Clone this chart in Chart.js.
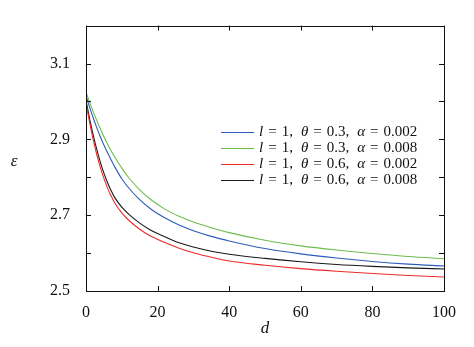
<!DOCTYPE html>
<html>
<head>
<meta charset="utf-8">
<script src="https://cdn.jsdelivr.net/npm/chart.js@4"></script>
<style>
  html, body { margin: 0; padding: 0; background: #fff; }
  #wrap { width: 474px; height: 347px; }
</style>
</head>
<body>
<div id="wrap"><canvas id="chart" width="474" height="347"></canvas></div>
<script>
// distance values along the x axis
const dValues = [0, 1, 2, 3, 4, 5, 6, 7, 8, 10, 12, 15, 18, 22, 26, 30, 35, 40, 50, 60, 70, 80, 90, 100];

// epsilon for each parameter set
const epsL1T03A002 = [3.015, 2.985, 2.957, 2.931, 2.907, 2.885, 2.865, 2.846, 2.828, 2.796, 2.771, 2.741, 2.717, 2.693, 2.674, 2.659, 2.644, 2.632, 2.612, 2.598, 2.587, 2.578, 2.571, 2.566];
const epsL1T03A008 = [3.025, 2.998, 2.973, 2.950, 2.928, 2.907, 2.888, 2.870, 2.854, 2.824, 2.798, 2.767, 2.742, 2.716, 2.697, 2.682, 2.667, 2.654, 2.634, 2.619, 2.608, 2.599, 2.591, 2.585];
const epsL1T06A002 = [2.995, 2.945, 2.900, 2.860, 2.826, 2.797, 2.772, 2.751, 2.733, 2.706, 2.686, 2.663, 2.645, 2.628, 2.613, 2.601, 2.589, 2.579, 2.568, 2.559, 2.552, 2.546, 2.541, 2.537];
const epsL1T06A008 = [3.003, 2.955, 2.912, 2.874, 2.840, 2.811, 2.786, 2.765, 2.747, 2.721, 2.702, 2.679, 2.661, 2.643, 2.627, 2.616, 2.605, 2.597, 2.586, 2.577, 2.570, 2.565, 2.561, 2.558];

const seriesLabels = [
  'l = 1, θ = 0.3, α = 0.002',
  'l = 1, θ = 0.3, α = 0.008',
  'l = 1, θ = 0.6, α = 0.002',
  'l = 1, θ = 0.6, α = 0.008'
];
const seriesColors = ['#2c5cb8', '#6cbd4c', '#ee2a2a', '#1a1a1a'];

const xTickLabels = ['0', '20', '40', '60', '80', '100'];
const yTickLabels = ['2.5', '2.7', '2.9', '3.1'];

const serif = '"Liberation Serif", "DejaVu Serif", serif';

function toPoints(ys) {
  return dValues.map((d, i) => ({ x: d, y: ys[i] }));
}

const allSeries = [epsL1T03A002, epsL1T03A008, epsL1T06A002, epsL1T06A008];

// frame, mirrored inward ticks, axis symbols and the legend box
const decorations = {
  id: 'decorations',
  afterDraw(chart) {
    const ctx = chart.ctx;
    const a = chart.chartArea;
    const xs = chart.scales.x, ys = chart.scales.y;
    ctx.save();
    ctx.strokeStyle = '#111';
    ctx.lineWidth = 1;
    ctx.strokeRect(Math.round(a.left) + 0.5, Math.round(a.top) + 0.5,
      Math.round(a.right - a.left), Math.round(a.bottom - a.top));

    ctx.beginPath();
    const tl = 5;
    ys.ticks.forEach(t => {
      const y = Math.round(ys.getPixelForValue(t.value)) + 0.5;
      ctx.moveTo(a.left, y); ctx.lineTo(a.left + tl, y);
      ctx.moveTo(a.right, y); ctx.lineTo(a.right - tl, y);
    });
    xs.ticks.forEach(t => {
      const x = Math.round(xs.getPixelForValue(t.value)) + 0.5;
      ctx.moveTo(x, a.bottom); ctx.lineTo(x, a.bottom - tl);
      ctx.moveTo(x, a.top); ctx.lineTo(x, a.top + tl);
    });
    ctx.stroke();

    // axis symbols
    ctx.fillStyle = '#111';
    ctx.textAlign = 'center';
    ctx.textBaseline = 'middle';
    ctx.font = 'italic 17px ' + serif;
    ctx.fillText('ε', 14, 162);
    ctx.fillText('d', (a.left + a.right) / 2, 329);

    // legend
    const rowY = [132, 148, 164, 180];
    chart.data.datasets.forEach((ds, i) => {
      const y = rowY[i] + 0.5;
      ctx.strokeStyle = ds.borderColor;
      ctx.lineWidth = 1.2;
      ctx.beginPath();
      ctx.moveTo(221, y); ctx.lineTo(254, y);
      ctx.stroke();
      drawMath(ctx, ds.label, 259, rowY[i]);
    });
    ctx.restore();
  }
};

// letters in italic, digits and signs upright, wider gaps around "="
function drawMath(ctx, text, x, y) {
  ctx.textAlign = 'left';
  ctx.textBaseline = 'middle';
  ctx.fillStyle = '#111';
  const size = '15px ';
  text.split(' ').forEach(p => {
    if (p === '=') {
      x += 5;
      ctx.font = size + serif;
      ctx.fillText('=', x, y);
      x += ctx.measureText('=').width + 5;
      return;
    }
    for (const ch of p) {
      const italic = /[a-zα-ω]/.test(ch);
      ctx.font = (italic ? 'italic ' : '') + size + serif;
      ctx.fillText(ch, x, y);
      x += ctx.measureText(ch).width;
    }
    if (p.endsWith(',')) x += 8;
  });
}

new Chart(document.getElementById('chart'), {
  type: 'line',
  data: {
    datasets: allSeries.map((s, i) => ({
      label: seriesLabels[i],
      data: toPoints(s),
      borderColor: seriesColors[i],
      borderWidth: 1.1,
      pointRadius: 0,
      fill: false,
      cubicInterpolationMode: 'monotone'
    }))
  },
  options: {
    responsive: false,
    animation: false,
    layout: { padding: { left: 0, right: 30, top: 9, bottom: 0 } },
    plugins: { legend: { display: false }, tooltip: { enabled: false } },
    scales: {
      x: {
        type: 'linear',
        min: 0,
        max: 100,
        afterFit(scale) { scale.height = 56; },
        grid: { display: false, drawTicks: false },
        border: { display: false },
        ticks: {
          stepSize: 20,
          padding: 12,
          color: '#111',
          font: { family: serif, size: 16 },
          callback: v => xTickLabels.includes(String(v)) ? String(v) : ''
        }
      },
      y: {
        min: 2.5,
        max: 3.2,
        afterFit(scale) { scale.width = 86; },
        grid: { display: false, drawTicks: false },
        border: { display: false },
        ticks: {
          stepSize: 0.1,
          padding: 16,
          color: '#111',
          font: { family: serif, size: 16 },
          callback: v => {
            const s = Number(v).toFixed(1);
            return yTickLabels.includes(s) ? s : '';
          }
        }
      }
    }
  },
  plugins: [decorations]
});
</script>
</body>
</html>
